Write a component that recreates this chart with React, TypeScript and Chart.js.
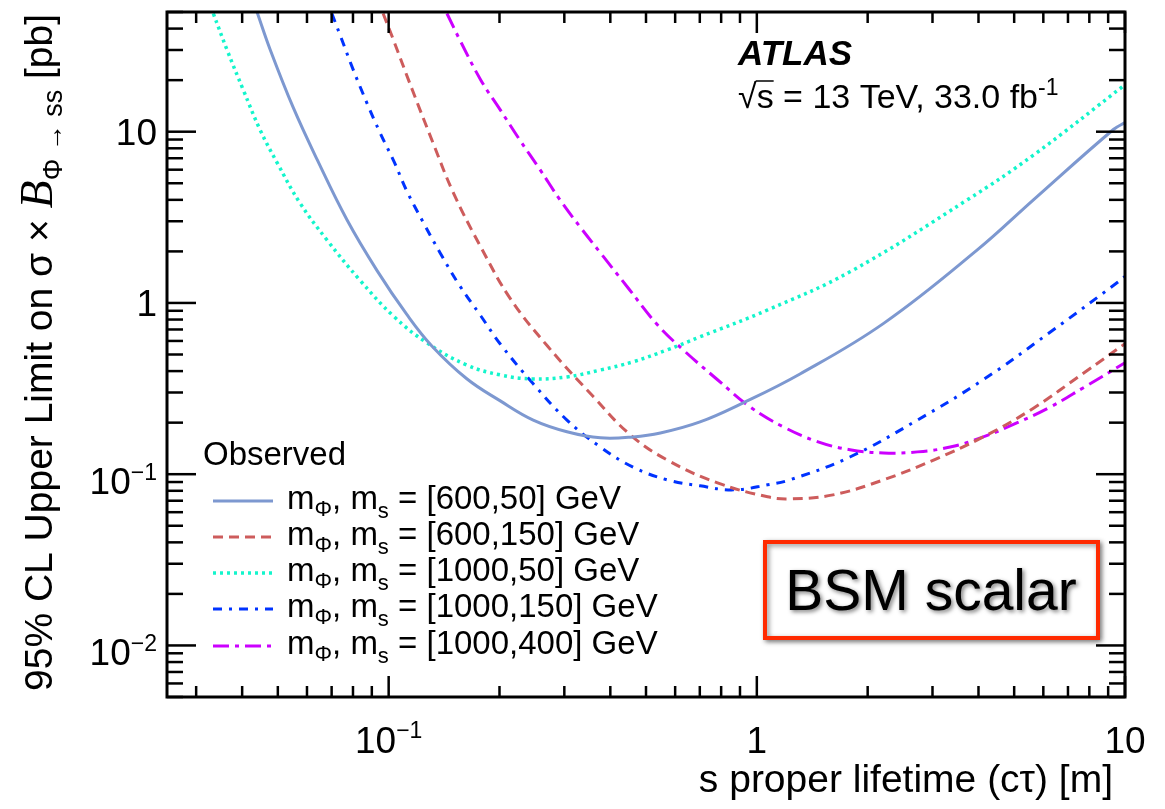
import React, { useEffect, useRef } from "react";
import { Chart, registerables } from "chart.js";
Chart.register(...registerables);

// ---------- data ----------
const s1X = [0.0439, 0.0477, 0.055, 0.064, 0.0771, 0.0931, 0.112, 0.131, 0.163, 0.201, 0.247, 0.305, 0.376, 0.461, 0.547, 0.701, 0.918, 1.31, 2.21, 3.97, 5.64, 9.3, 10];
const s1Y = [50, 30, 13.9, 6.84, 3.05, 1.54, 0.857, 0.561, 0.361, 0.268, 0.207, 0.177, 0.163, 0.165, 0.174, 0.202, 0.261, 0.385, 0.76, 2.04, 4.0, 10.3, 11.3];

const s2X = [0.0966, 0.103, 0.116, 0.132, 0.15, 0.178, 0.214, 0.27, 0.36, 0.453, 0.571, 0.782, 1.07, 1.23, 1.61, 2.21, 3.02, 4.12, 5.64, 7.71, 10];
const s2Y = [49, 34.4, 17.5, 8.6, 4.38, 2.12, 1.06, 0.56, 0.283, 0.17, 0.121, 0.089, 0.0738, 0.0718, 0.0757, 0.0927, 0.121, 0.165, 0.243, 0.389, 0.578];

const s3X = [0.0334, 0.0364, 0.0403, 0.0448, 0.0498, 0.0574, 0.068, 0.0835, 0.103, 0.127, 0.163, 0.201, 0.247, 0.305, 0.376, 0.461, 0.571, 0.701, 1.07, 1.79, 3.73, 5.64, 10];
const s3Y = [49, 30, 17.5, 10.2, 6.58, 3.84, 2.33, 1.36, 0.839, 0.585, 0.434, 0.38, 0.36, 0.37, 0.406, 0.453, 0.532, 0.634, 0.91, 1.52, 4.0, 7.3, 18.8];

const s4X = [0.0701, 0.0738, 0.08, 0.0873, 0.0948, 0.1035, 0.112, 0.124, 0.138, 0.156, 0.178, 0.201, 0.247, 0.305, 0.376, 0.461, 0.571, 0.701, 0.863, 1.07, 1.23, 1.79, 2.73, 4.12, 6.27, 9.55, 10];
const s4Y = [49, 36.7, 23.2, 14.7, 9.84, 6.66, 4.51, 2.97, 1.96, 1.26, 0.839, 0.576, 0.337, 0.207, 0.144, 0.11, 0.0927, 0.0855, 0.081, 0.0867, 0.0927, 0.126, 0.207, 0.356, 0.676, 1.32, 1.43];

const s5X = [0.144, 0.156, 0.178, 0.201, 0.227, 0.258, 0.292, 0.331, 0.376, 0.445, 0.537, 0.631, 0.782, 0.959, 1.18, 1.46, 1.79, 2.21, 2.73, 3.35, 4.12, 5.1, 6.27, 7.71, 10];
const s5Y = [49, 34.4, 20, 13.4, 8.96, 5.98, 4.0, 2.78, 1.96, 1.24, 0.745, 0.532, 0.356, 0.247, 0.189, 0.155, 0.139, 0.133, 0.135, 0.144, 0.165, 0.2, 0.247, 0.32, 0.447];

const seriesMasses = ["[600,50]", "[600,150]", "[1000,50]", "[1000,150]", "[1000,400]"];

const xTickValues = [0.1, 1, 10];
const xTickBase = ["10", "1", "10"];
const xTickExp = ["\u22121", "", ""];
const yTickValues = [0.01, 0.1, 1, 10];
const yTickBase = ["10", "10", "1", "10"];
const yTickExp = ["\u22122", "\u22121", "", ""];

const X_MIN = 0.025, X_MAX = 10, Y_MIN = 0.005, Y_MAX = 50;

// ---------- styles ----------
const SANS = '"Liberation Sans", Arial, Helvetica, sans-serif';
const SERIF = '"Liberation Serif", "Times New Roman", serif';
const styles = [
  { color: "#7d98d0", dash: [] as number[], width: 3 },
  { color: "#cd5c5c", dash: [10, 6], width: 3 },
  { color: "#13f5cc", dash: [3, 4], width: 3.5 },
  { color: "#0033ff", dash: [9, 7, 3, 7], width: 3 },
  { color: "#cc00ff", dash: [16, 6, 4, 6], width: 3 },
];

const pts = (xs: number[], ys: number[]) => xs.map((x, i) => ({ x, y: ys[i] }));

type Seg = { t: string; size: number; dy?: number; font?: string };
function drawRich(ctx: CanvasRenderingContext2D, x: number, y: number, segs: Seg[]) {
  let cx = x;
  for (const s of segs) {
    ctx.font = s.font ? s.font : `${s.size}px ${SANS}`;
    ctx.fillText(s.t, cx, y + (s.dy || 0));
    cx += ctx.measureText(s.t).width;
  }
  return cx - x;
}
function measureRich(ctx: CanvasRenderingContext2D, segs: Seg[]) {
  let w = 0;
  for (const s of segs) {
    ctx.font = s.font ? s.font : `${s.size}px ${SANS}`;
    w += ctx.measureText(s.t).width;
  }
  return w;
}

const decorPlugin = {
  id: "atlasDecor",
  afterDraw(chart: any) {
    const ctx: CanvasRenderingContext2D = chart.ctx;
    const xs = chart.scales.x, ys = chart.scales.y;
    const a = chart.chartArea;
    ctx.save();
    ctx.fillStyle = "#000";
    ctx.strokeStyle = "#000";
    ctx.setLineDash([]);

    // ticks
    ctx.lineWidth = 2.5;
    const tick = (x1: number, y1: number, x2: number, y2: number) => {
      ctx.beginPath(); ctx.moveTo(x1, y1); ctx.lineTo(x2, y2); ctx.stroke();
    };
    for (let e = -3; e <= 2; e++) {
      for (let m = 1; m <= 9; m++) {
        const v = m * Math.pow(10, e);
        const major = m === 1;
        if (v >= X_MIN * 0.999 && v <= X_MAX * 1.001) {
          const px = xs.getPixelForValue(v);
          const L = major ? 21 : 11;
          tick(px, a.bottom, px, a.bottom - L);
          tick(px, a.top, px, a.top + L);
        }
        if (v >= Y_MIN * 0.999 && v <= Y_MAX * 1.001) {
          const py = ys.getPixelForValue(v);
          const L = major ? 29 : 16;
          tick(a.left, py, a.left + L, py);
          tick(a.right, py, a.right - L, py);
        }
      }
    }
    // frame
    ctx.lineWidth = 3;
    ctx.strokeRect(a.left, a.top, a.right - a.left, a.bottom - a.top);

    // tick labels
    ctx.textBaseline = "alphabetic";
    ctx.textAlign = "left";
    xTickValues.forEach((v, i) => {
      const segs: Seg[] = [{ t: xTickBase[i], size: 37 }];
      if (xTickExp[i]) segs.push({ t: xTickExp[i], size: 23, dy: -15 });
      const w = measureRich(ctx, segs);
      const px = xs.getPixelForValue(v);
      drawRich(ctx, px - w / 2, 753, segs);
    });
    yTickValues.forEach((v, i) => {
      const segs: Seg[] = [{ t: yTickBase[i], size: 37 }];
      const hasExp = !!yTickExp[i];
      if (hasExp) segs.push({ t: yTickExp[i], size: 23, dy: -14 });
      const w = measureRich(ctx, segs);
      const py = ys.getPixelForValue(v);
      drawRich(ctx, 157 - w, py + (hasExp ? 20 : 13), segs);
    });

    // x title
    ctx.font = `39px ${SANS}`;
    ctx.textAlign = "right";
    ctx.fillText("s proper lifetime (c\u03c4) [m]", 1113, 792);
    ctx.textAlign = "left";

    // y title (rotated)
    ctx.save();
    ctx.translate(52, 691);
    ctx.rotate(-Math.PI / 2);
    drawRich(ctx, 0, 0, [
      { t: "95% CL Upper Limit on \u03c3 \u00d7 ", size: 39 },
      { t: "B", size: 46, font: `italic 46px ${SERIF}` },
      { t: "\u03a6 \u2192 ss", size: 27, dy: 10 },
      { t: " [pb]", size: 39 },
    ]);
    ctx.restore();

    // ATLAS label
    ctx.font = `bold italic 35px ${SANS}`;
    ctx.fillText("ATLAS", 738, 65);
    const w1 = drawRich(ctx, 738, 108, [{ t: "\u221a", size: 34 }]);
    ctx.font = `34px ${SANS}`;
    const ws = ctx.measureText("s").width;
    ctx.lineWidth = 1.5;
    tick(738 + w1 - 1, 81, 738 + w1 + ws, 81);
    drawRich(ctx, 738 + w1, 108, [
      { t: "s = 13 TeV, 33.0 fb", size: 34 },
      { t: "-1", size: 23, dy: -13 },
    ]);

    // legend
    ctx.font = `33px ${SANS}`;
    ctx.fillText("Observed", 203, 465);
    const rowY = [501, 537, 573, 609, 646];
    styles.forEach((st, i) => {
      ctx.save();
      ctx.strokeStyle = st.color;
      ctx.lineWidth = st.width;
      ctx.setLineDash(st.dash);
      ctx.beginPath(); ctx.moveTo(213, rowY[i]); ctx.lineTo(273, rowY[i]); ctx.stroke();
      ctx.restore();
      ctx.fillStyle = "#000";
      drawRich(ctx, 287, rowY[i] + 8, [
        { t: "m", size: 33 },
        { t: "\u03a6", size: 22, dy: 7 },
        { t: ", m", size: 33 },
        { t: "s", size: 22, dy: 9 },
        { t: " = " + seriesMasses[i] + " GeV", size: 33 },
      ]);
    });

    // BSM scalar box
    ctx.save();
    ctx.shadowColor = "rgba(0,0,0,0.45)";
    ctx.shadowBlur = 5;
    ctx.shadowOffsetX = 2;
    ctx.shadowOffsetY = 2;
    ctx.fillStyle = "#fff";
    ctx.fillRect(765, 542, 333, 96);
    ctx.strokeStyle = "#ff2a00";
    ctx.lineWidth = 4;
    ctx.strokeRect(765, 542, 333, 96);
    ctx.restore();
    ctx.save();
    ctx.shadowColor = "rgba(0,0,0,0.5)";
    ctx.shadowBlur = 4;
    ctx.shadowOffsetX = 2;
    ctx.shadowOffsetY = 2;
    ctx.fillStyle = "#000";
    ctx.font = `57px ${SANS}`;
    ctx.textAlign = "center";
    ctx.fillText("BSM scalar", 931, 610);
    ctx.restore();

    ctx.restore();
  },
};

export default function App() {
  const ref = useRef<HTMLCanvasElement | null>(null);
  useEffect(() => {
    if (!ref.current) return;
    const all = [pts(s1X, s1Y), pts(s2X, s2Y), pts(s3X, s3Y), pts(s4X, s4Y), pts(s5X, s5Y)];
    const chart = new Chart(ref.current, {
      type: "line",
      data: {
        datasets: all.map((d, i) => ({
          label: seriesMasses[i],
          data: d,
          borderColor: styles[i].color,
          borderWidth: styles[i].width,
          borderDash: styles[i].dash,
          pointRadius: 0,
          fill: false,
          tension: 0.4,
        })),
      },
      options: {
        responsive: false,
        maintainAspectRatio: false,
        animation: false,
        devicePixelRatio: 1,
        events: [],
        layout: { padding: { left: 167, right: 40, top: 12, bottom: 112 } },
        scales: {
          x: { type: "logarithmic", min: X_MIN, max: X_MAX, display: false },
          y: { type: "logarithmic", min: Y_MIN, max: Y_MAX, display: false },
        },
        plugins: { legend: { display: false }, tooltip: { enabled: false } },
      },
      plugins: [decorPlugin],
    });
    return () => chart.destroy();
  }, []);
  return (
    <canvas
      ref={ref}
      width={1165}
      height={809}
      style={{ position: "fixed", left: 0, top: 0, width: 1165, height: 809, background: "#fff" }}
    />
  );
}
